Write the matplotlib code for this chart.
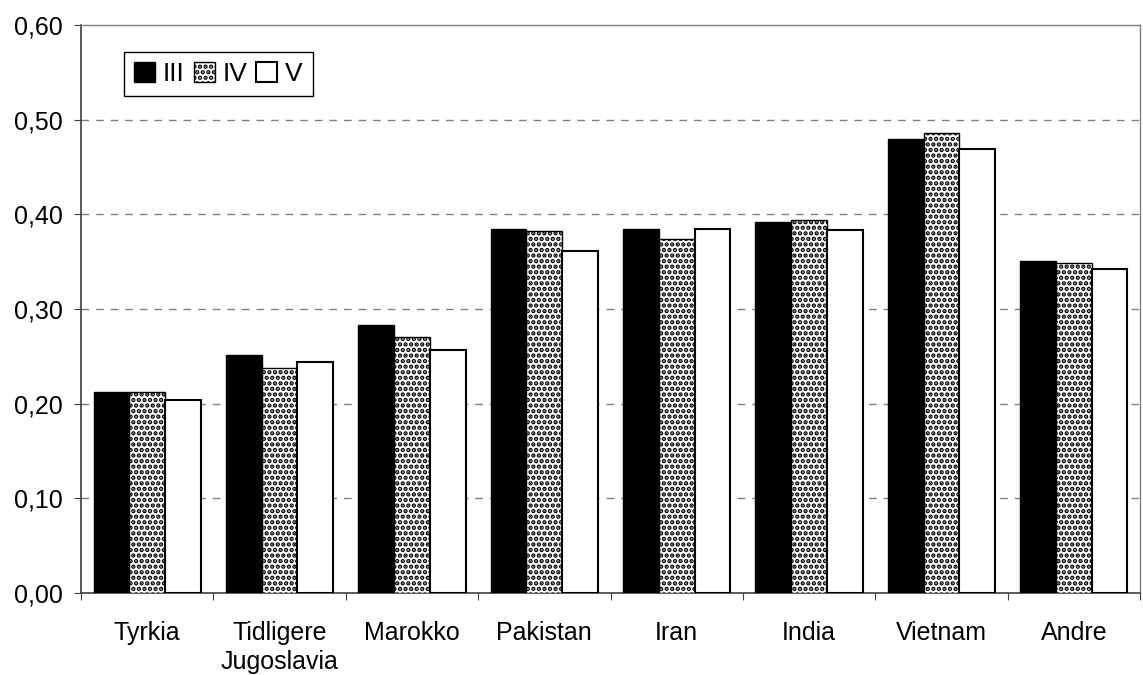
import matplotlib.pyplot as plt
import numpy as np

plt.rcParams['font.family'] = ['Liberation Sans', 'DejaVu Sans']
plt.rcParams['hatch.linewidth'] = 2.2

##### data
categories = ['Tyrkia', 'Tidligere\nJugoslavia', 'Marokko', 'Pakistan',
              'Iran', 'India', 'Vietnam', 'Andre']
series_names = ['III', 'IV', 'V']
vals_III = [0.212, 0.251, 0.283, 0.385, 0.385, 0.392, 0.480, 0.351]
vals_IV = [0.212, 0.238, 0.270, 0.382, 0.374, 0.394, 0.486, 0.349]
vals_V = [0.204, 0.244, 0.257, 0.361, 0.384, 0.383, 0.469, 0.342]
y_ticks = [0.0, 0.1, 0.2, 0.3, 0.4, 0.5, 0.6]

##### figure
fig = plt.figure(figsize=[11.43, 6.75], dpi=100)
ax = fig.add_axes([0.0709, 0.1215, 0.9265, 0.8415])

x = np.arange(len(categories))
w = 0.27
ax.bar(x - w, vals_III, w, color='black', edgecolor='black', linewidth=1,
       label=series_names[0], zorder=3)
ax.bar(x, vals_IV, w, color='white', edgecolor='black', linewidth=1,
       hatch='...', label=series_names[1], zorder=3)
ax.bar(x + w, vals_V, w, color='white', edgecolor='black', linewidth=1.5,
       label=series_names[2], zorder=3)

ax.set_xlim(-0.5, len(categories) - 0.5)
ax.set_ylim(0, 0.6)
ax.set_yticks(y_ticks)
ax.set_yticklabels([('%.2f' % v).replace('.', ',') for v in y_ticks])

# ticks at group boundaries, labels at group centres
ax.set_xticks(np.arange(len(categories) + 1) - 0.5)
ax.set_xticklabels([])
ax.set_xticks(x, minor=True)
ax.set_xticklabels(categories, minor=True, linespacing=1.3)
ax.tick_params(axis='x', which='minor', length=0, pad=20, labelsize=18)
ax.tick_params(axis='x', which='major', length=5, color='#404040')
ax.tick_params(axis='y', length=5, color='#404040', labelsize=18, pad=8)

for yv in y_ticks[1:-1]:
    ax.axhline(yv, color='#808080', linewidth=1, linestyle=(0, (5.5, 5)), zorder=1)

for s in ['left', 'bottom']:
    ax.spines[s].set_color('#404040')
    ax.spines[s].set_linewidth(1.2)
for s in ['top', 'right']:
    ax.spines[s].set_color('#808080')
    ax.spines[s].set_linewidth(1)

leg = ax.legend(loc='upper left', bbox_to_anchor=(0.0406, 0.9525), ncol=3,
                fontsize=19, frameon=True, fancybox=False, framealpha=1,
                edgecolor='black', borderaxespad=0, handlelength=0.8,
                handleheight=0.8, handletextpad=0.3, columnspacing=0.33,
                borderpad=0.38)
leg.get_frame().set_linewidth(1)

plt.savefig('out.png', dpi=100)
